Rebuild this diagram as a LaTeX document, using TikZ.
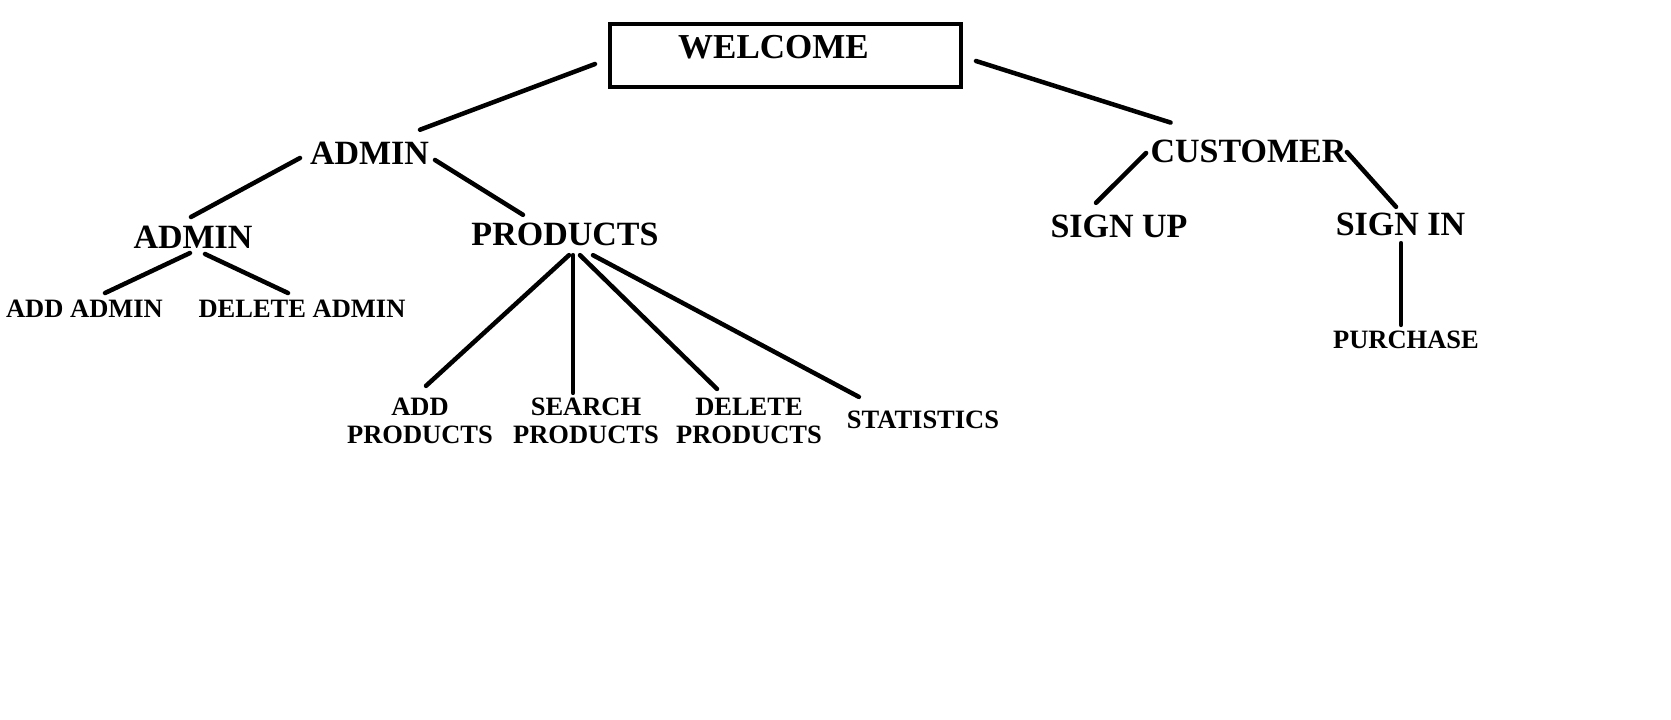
\documentclass[tikz,border=0pt]{standalone}
\usepackage{fontspec}
\setmainfont{Liberation Serif}

\begin{document}
\begin{tikzpicture}[x=1pt,y=-1pt]
            \useasboundingbox (0,0) rectangle (1671,720);

            \node[draw,line width=4pt,minimum width=351pt,inner sep=0pt,
                  text height=34pt,text depth=29pt,
                  font=\bfseries\fontsize{35}{40}\selectfont] (welcome) at (785.5,55.5) {WELCOME\rule{24pt}{0pt}};

            \begin{scope}[every node/.style={inner sep=0pt,outer sep=0pt,font=\bfseries\fontsize{34}{40}\selectfont}]
                \node (admin) at (369.5,153) {ADMIN};
                \node (customer) at (1248.5,151) {CUSTOMER};
                \node (adminl) at (193,237) {ADMIN};
                \node (products) at (565,234.5) {PRODUCTS};
                \node (signup) at (1119,226) {SIGN UP};
                \node (signin) at (1400.5,224) {SIGN IN};
            \end{scope}

            \begin{scope}[every node/.style={inner sep=0pt,outer sep=0pt,align=center,font=\bfseries\fontsize{26.5}{28}\selectfont}]
                \node (addadmin) at (84.5,308.5) {ADD ADMIN};
                \node (deladmin) at (302,308.5) {DELETE ADMIN};
                \node (addprod) at (420,420.5) {ADD\\PRODUCTS};
                \node (searchprod) at (586,420.5) {SEARCH\\PRODUCTS};
                \node (delprod) at (749,420.5) {DELETE\\PRODUCTS};
                \node (stats) at (923,420) {STATISTICS};
                \node (purchase) at (1406,340) {PURCHASE};
            \end{scope}

            \begin{scope}[every edge/.style={draw,line width=4.5pt,line cap=round}]
                \path ([shift={(-13,8.5)}]welcome.west) edge ([shift={(-9,-12)}]admin.north east);
                \path ([shift={(13,5.5)}]welcome.east) edge ([shift={(20,-17)}]customer.north west);
                \path ([shift={(-10,5)}]admin.west) edge ([shift={(-2,-8.75)}]adminl.north);
                \path ([shift={(6,7)}]admin.east) edge ([shift={(-42,-8.25)}]products.north);
                \path ([shift={(-3,4.75)}]adminl.south) edge ([shift={(20.5,-6.7)}]addadmin.north);
                \path ([shift={(12,5.75)}]adminl.south) edge ([shift={(-14,-6.7)}]deladmin.north);
                \path ([shift={(4,9.25)}]products.south) edge ([shift={(6,-11.75)}]addprod.north);
                \path ([shift={(8,9.25)}]products.south) edge ([shift={(-13,-4.75)}]searchprod.north);
                \path ([shift={(15,9.25)}]products.south) edge ([shift={(-32,-8.75)}]delprod.north);
                \path ([shift={(28,9.25)}]products.south) edge ([shift={(12,-14.2)}]stats.north west);
                \path ([shift={(-4.5,2)}]customer.west) edge ([shift={(-23,-11.75)}]signup.north);
                \path ([shift={(0.5,1)}]customer.east) edge ([shift={(-4.5,-5.75)}]signin.north);
                \path ([shift={(0.5,7.75)}]signin.south) edge ([shift={(-5,-6.2)}]purchase.north);
            \end{scope}
\end{tikzpicture}
\end{document}
